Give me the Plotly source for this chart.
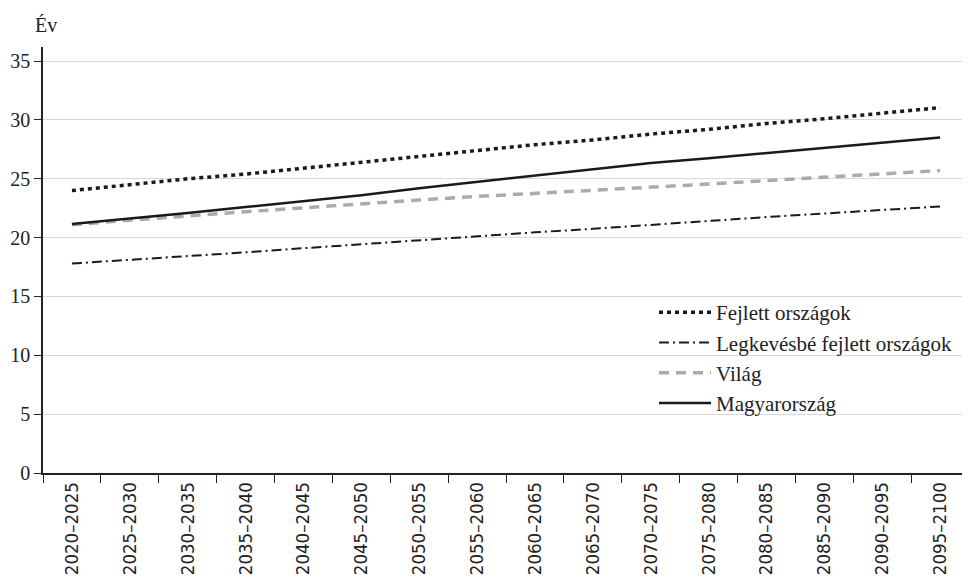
import plotly.graph_objects as go

categories = ["2020–2025", "2025–2030", "2030–2035", "2035–2040", "2040–2045", "2045–2050",
              "2050–2055", "2055–2060", "2060–2065", "2065–2070", "2070–2075", "2075–2080",
              "2080–2085", "2085–2090", "2090–2095", "2095–2100"]

fejlett = [24.0, 24.5, 25.0, 25.4, 25.9, 26.4, 26.9, 27.4, 27.9, 28.3, 28.8, 29.2, 29.7, 30.1, 30.6, 31.05]
legkevesbe = [17.8, 18.1, 18.45, 18.75, 19.1, 19.45, 19.8, 20.15, 20.45, 20.75, 21.1, 21.4, 21.75, 22.05, 22.35, 22.65]
vilag = [21.1, 21.5, 21.85, 22.2, 22.55, 22.9, 23.2, 23.5, 23.75, 24.0, 24.3, 24.55, 24.85, 25.15, 25.45, 25.7]
magyar = [21.15, 21.6, 22.1, 22.6, 23.1, 23.6, 24.2, 24.75, 25.3, 25.85, 26.35, 26.75, 27.2, 27.6, 28.1, 28.5]

y_ticks = [0, 5, 10, 15, 20, 25, 30, 35]

SERIF = "Liberation Serif, Times New Roman, serif"
NARROW = "DejaVu Sans Condensed, Liberation Sans Narrow, Arial Narrow, sans-serif"

# page has an 8px body margin; figure sized to fit the 970x586 window
W, H = 962, 578
L, R, T, B = 35, 1, 39, 113
PW = W - L - R
PH = H - T - B

fig = go.Figure()
fig.add_trace(go.Scatter(x=categories, y=fejlett, mode="lines", name="Fejlett országok",
                         line=dict(color="#1a1a1a", width=3.5, dash="4px,4px")))
fig.add_trace(go.Scatter(x=categories, y=legkevesbe, mode="lines", name="Legkevésbé fejlett országok",
                         line=dict(color="#1a1a1a", width=2, dash="10px,4px,2px,4px")))
fig.add_trace(go.Scatter(x=categories, y=vilag, mode="lines", name="Világ",
                         line=dict(color="#ababaf", width=3.5, dash="10px,7px")))
fig.add_trace(go.Scatter(x=categories, y=magyar, mode="lines", name="Magyarország",
                         line=dict(color="#1a1a1a", width=2.5)))

fig.update_layout(
    width=W, height=H,
    margin=dict(l=L, r=R, t=T, b=B),
    paper_bgcolor="white", plot_bgcolor="white",
    font=dict(family=SERIF, color="#222222", size=20),
    showlegend=True,
    legend=dict(x=(646 - L) / PW, y=(PH + T - 284) / PH, xanchor="left", yanchor="top",
                bgcolor="rgba(0,0,0,0)", font=dict(family=SERIF, size=21, color="#222222"),
                itemwidth=52, traceorder="normal", tracegroupgap=0),
    annotations=[dict(text="Év", xref="paper", yref="paper", x=(25 - L) / PW, y=(PH + T - 17) / PH,
                      xanchor="left", yanchor="middle", showarrow=False,
                      font=dict(family=SERIF, size=20, color="#222222"))],
)

fig.update_xaxes(
    type="category", range=[-0.5, 15.5], automargin=False,
    showgrid=False, showline=True, linecolor="#222222", linewidth=1.5,
    ticks="outside", tickson="boundaries", ticklen=8, tickcolor="#222222", tickwidth=1.2,
    tickangle=-90, tickfont=dict(family=NARROW, size=18.5, color="#222222"),
)
fig.update_yaxes(
    range=[0, 36.2], tickvals=y_ticks, automargin=False,
    showgrid=True, gridcolor="#d9d9d9", gridwidth=1.2,
    showline=True, linecolor="#222222", linewidth=1.5,
    ticks="outside", ticklen=7, tickcolor="#222222", tickwidth=1.2,
    tickfont=dict(family=SERIF, size=20, color="#222222"), zeroline=False,
)

fig.write_html("out.html")
